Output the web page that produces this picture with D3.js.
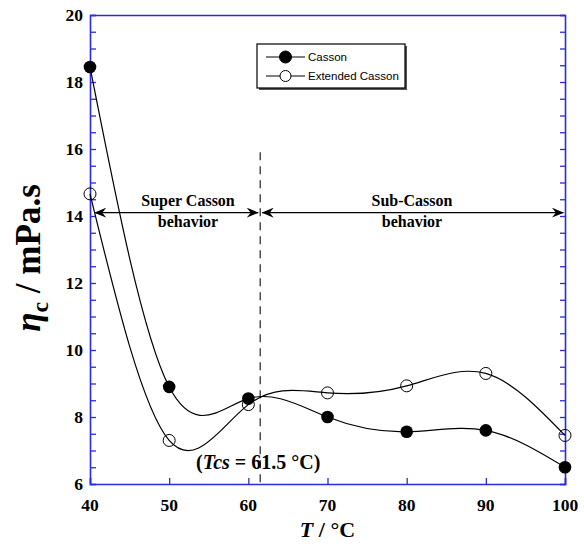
<!DOCTYPE html>
<html><head><meta charset="utf-8">
<script src="https://cdn.jsdelivr.net/npm/d3@7"></script>
<style>body{margin:0;background:#fff}svg{display:block}</style>
</head><body>
<svg id="c" width="584" height="544"></svg>
<script>
const temps = [40, 50, 60, 70, 80, 90, 100];
const casson = [18.45, 8.9, 8.55, 8.0, 7.56, 7.6, 6.5];
const extCasson = [14.66, 7.3, 8.37, 8.72, 8.93, 9.3, 7.45];
const xTicks = [40, 50, 60, 70, 80, 90, 100];
const yTicks = [6, 8, 10, 12, 14, 16, 18, 20];
const tcs = 61.5;

const svg = d3.select("#c");
const L = 90, R = 565, T = 15, B = 484;
const x = d3.scaleLinear().domain([40, 100]).range([L, R]);
const y = d3.scaleLinear().domain([6, 20]).range([B, T]);
const blue = "#2a2ae6";
const serif = "'Liberation Serif','Times New Roman',serif";

const yMinor = d3.range(6, 20.01, 0.5);
const gl = svg.append("g").attr("transform", `translate(${L},0)`)
  .call(d3.axisRight(y).tickValues(yMinor).tickSize(6).tickFormat(""));
const gr = svg.append("g").attr("transform", `translate(${R},0)`)
  .call(d3.axisLeft(y).tickValues(yMinor).tickSize(5).tickFormat(""));
const gb = svg.append("g").attr("transform", `translate(0,${B})`)
  .call(d3.axisTop(x).tickValues(xTicks).tickSize(6).tickFormat(""));
const gt = svg.append("g").attr("transform", `translate(0,${T})`)
  .call(d3.axisBottom(x).tickValues(xTicks).tickSize(0).tickFormat(""));
[gl, gr, gb, gt].forEach(g => {
  g.selectAll("path,line").attr("stroke", blue).attr("stroke-width", 1.3);
  g.select(".domain").attr("stroke-width", 1.6);
});

svg.append("g").selectAll("text").data(yTicks).join("text")
  .attr("x", 83).attr("y", d => y(d)).attr("dy", "0.35em")
  .attr("text-anchor", "end").attr("font-family", serif)
  .attr("font-weight", "bold").attr("font-size", 17.5).text(d => d);
svg.append("g").selectAll("text").data(xTicks).join("text")
  .attr("x", d => x(d)).attr("y", 511)
  .attr("text-anchor", "middle").attr("font-family", serif)
  .attr("font-weight", "bold").attr("font-size", 17.5).text(d => d);

const xt = svg.append("text").attr("x", x(70)).attr("y", 537)
  .attr("text-anchor", "middle").attr("font-family", serif)
  .attr("font-weight", "bold").attr("font-size", 22);
xt.append("tspan").attr("font-style", "italic").text("T");
xt.append("tspan").text(" / °C");

const yt = svg.append("text").attr("transform", `translate(40,258) rotate(-90)`)
  .attr("text-anchor", "middle").attr("font-family", serif)
  .attr("font-weight", "bold").attr("font-size", 35);
yt.append("tspan").attr("font-style", "italic").text("η");
yt.append("tspan").attr("font-size", 24).attr("dy", 8).text("c");
yt.append("tspan").attr("dy", -8).text(" / mPa.s");

svg.append("line").attr("x1", x(tcs)).attr("x2", x(tcs))
  .attr("y1", y(15.9)).attr("y2", B)
  .attr("stroke", "#222").attr("stroke-width", 1.2).attr("stroke-dasharray", "8,6");

const defs = svg.append("defs");
defs.append("marker").attr("id", "ah").attr("viewBox", "0 0 12 10")
  .attr("refX", 11.5).attr("refY", 5).attr("markerWidth", 12).attr("markerHeight", 10)
  .attr("markerUnits", "userSpaceOnUse").attr("orient", "auto-start-reverse")
  .append("path").attr("d", "M0,0 L12,5 L0,10 L4,5 Z").attr("fill", "#000");
const ay = y(14.1);
svg.append("line").attr("x1", x(40.6)).attr("x2", x(tcs) - 2).attr("y1", ay).attr("y2", ay)
  .attr("stroke", "#000").attr("stroke-width", 1.1)
  .attr("marker-start", "url(#ah)").attr("marker-end", "url(#ah)");
svg.append("line").attr("x1", x(tcs) + 2).attr("x2", x(99.8)).attr("y1", ay).attr("y2", ay)
  .attr("stroke", "#000").attr("stroke-width", 1.1)
  .attr("marker-start", "url(#ah)").attr("marker-end", "url(#ah)");

const lbl = (tx, ty, s) => svg.append("text").attr("x", tx).attr("y", ty)
  .attr("text-anchor", "middle").attr("font-family", serif)
  .attr("font-weight", "bold").attr("font-size", 16).text(s);
lbl(188, 206, "Super Casson");
lbl(188, 227, "behavior");
lbl(412, 206, "Sub-Casson");
lbl(412, 227, "behavior");

const tt = svg.append("text").attr("x", x(tcs) - 2).attr("y", 469)
  .attr("text-anchor", "middle").attr("font-family", serif)
  .attr("font-weight", "bold").attr("font-size", 20);
tt.append("tspan").text("(");
tt.append("tspan").attr("font-style", "italic").text("Tcs");
tt.append("tspan").text(" = 61.5 °C)");

const line = d3.line().x(d => x(d[0])).y(d => y(d[1])).curve(d3.curveNatural);
const cData = temps.map((t, i) => [t, casson[i]]);
const eData = temps.map((t, i) => [t, extCasson[i]]);
[cData, eData].forEach(d => svg.append("path").attr("d", line(d))
  .attr("fill", "none").attr("stroke", "#000").attr("stroke-width", 1.2));

svg.append("g").selectAll("circle").data(eData).join("circle")
  .attr("cx", d => x(d[0])).attr("cy", d => y(d[1])).attr("r", 6)
  .attr("fill", "#fff").attr("fill-opacity", 0).attr("stroke", "#000").attr("stroke-width", 1);
svg.append("g").selectAll("circle").data(cData).join("circle")
  .attr("cx", d => x(d[0])).attr("cy", d => y(d[1])).attr("r", 6.3)
  .attr("fill", "#000");

const lg = svg.append("g");
lg.append("rect").attr("x", 259).attr("y", 46).attr("width", 148).attr("height", 44).attr("fill", "#555");
lg.append("rect").attr("x", 257).attr("y", 44).attr("width", 148).attr("height", 44)
  .attr("fill", "#fff").attr("stroke", "#000").attr("stroke-width", 1.2);
const items = [{n: "Casson", f: "#000"}, {n: "Extended Casson", f: "none"}];
items.forEach((it, i) => {
  const yy = 57 + i * 19;
  lg.append("line").attr("x1", 266).attr("x2", 305).attr("y1", yy).attr("y2", yy)
    .attr("stroke", "#000").attr("stroke-width", 1);
  lg.append("circle").attr("cx", 285.5).attr("cy", yy).attr("r", it.f === "none" ? 5.5 : 6)
    .attr("fill", it.f === "none" ? "#fff" : "#000").attr("stroke", "#000");
  lg.append("text").attr("x", 308).attr("y", yy).attr("dy", "0.35em")
    .attr("font-family", "'Liberation Sans',Arial,sans-serif").attr("font-size", 11.5).text(it.n);
});
</script>
</body></html>
